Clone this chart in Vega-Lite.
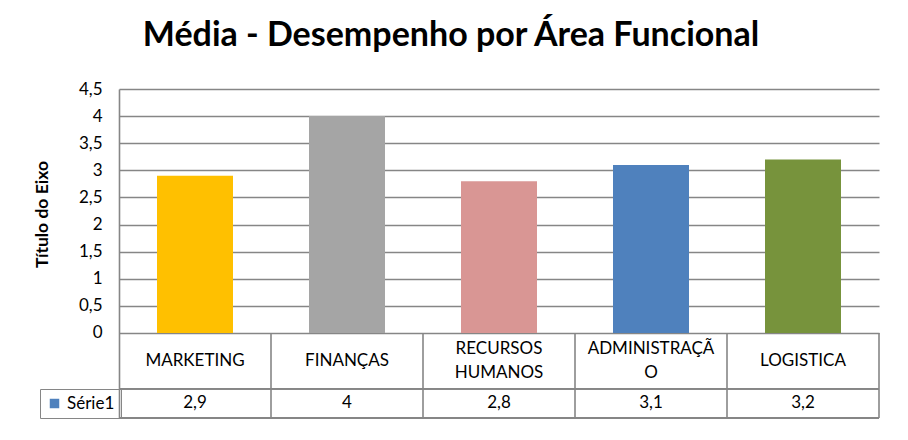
{
  "$schema": "https://vega.github.io/schema/vega-lite/v6.json",
  "width": 760,
  "height": 329,
  "autosize": {"type": "none"},
  "padding": {"left": 119, "top": 89, "right": 29, "bottom": 22},
  "background": "white",
  "title": {
    "text": "Média - Desempenho por Área Funcional",
    "font": "Lato",
    "fontSize": 34,
    "fontWeight": "bold",
    "color": "black",
    "anchor": "middle",
    "dx": -48,
    "offset": 27
  },
  "config": {
    "locale": {"number": {"decimal": ",", "thousands": ".", "grouping": [3], "currency": ["R$", ""]}},
    "view": {"stroke": null},
    "text": {"font": "Lato", "fontSize": 17, "color": "black"},
    "axisY": {
      "values": [0, 0.5, 1, 1.5, 2, 2.5, 3, 3.5, 4, 4.5],
      "format": "~g",
      "labelOverlap": false,
      "titleFont": "Lato",
      "titleFontSize": 17.5,
      "titleFontWeight": "bold",
      "titleColor": "black",
      "titleY": 125,
      "titlePadding": 27,
      "labelFont": "Lato",
      "labelFontSize": 17,
      "labelColor": "black",
      "labelPadding": 17,
      "ticks": false,
      "grid": true,
      "gridColor": "#868686",
      "gridWidth": 1.6,
      "gridOpacity": 1,
      "domainColor": "#868686",
      "domainWidth": 1.6
    }
  },
  "data": {
    "values": [
      {"area": "MARKETING", "rotulo": "MARKETING", "valor": 2.9},
      {"area": "FINANÇAS", "rotulo": "FINANÇAS", "valor": 4},
      {"area": "RECURSOS HUMANOS", "rotulo": "RECURSOS\nHUMANOS", "valor": 2.8},
      {"area": "ADMINISTRAÇÃO", "rotulo": "ADMINISTRAÇÃ\nO", "valor": 3.1},
      {"area": "LOGISTICA", "rotulo": "LOGISTICA", "valor": 3.2}
    ]
  },
  "layer": [
    {
      "mark": {"type": "bar", "width": {"band": 0.5}},
      "encoding": {
        "x": {"field": "area", "type": "nominal", "sort": null, "scale": {"paddingInner": 0, "paddingOuter": 0}, "axis": null},
        "y": {
          "field": "valor",
          "type": "quantitative",
          "scale": {"domain": [-1.57, 4.5], "nice": false, "zero": false},
          "axis": {"title": "Título do Eixo", "values": [0, 0.5, 1, 1.5, 2, 2.5, 3, 3.5, 4, 4.5]}
        },
        "y2": {"datum": 0},
        "color": {
          "field": "area",
          "type": "nominal",
          "scale": {
            "domain": ["MARKETING", "FINANÇAS", "RECURSOS HUMANOS", "ADMINISTRAÇÃO", "LOGISTICA"],
            "range": ["#FFC000", "#A5A5A5", "#D99694", "#4F81BD", "#77933C"]
          },
          "legend": null
        }
      }
    },
    {
      "mark": {"type": "rule", "color": "#868686", "strokeWidth": 1.6},
      "encoding": {
        "x": {"field": "area", "type": "nominal", "sort": null, "bandPosition": 1, "axis": null},
        "y": {"datum": 0, "axis": {"title": "Título do Eixo", "values": [0, 0.5, 1, 1.5, 2, 2.5, 3, 3.5, 4, 4.5]}},
        "y2": {"datum": -1.57}
      }
    },
    {
      "mark": {"type": "rule", "color": "#868686", "strokeWidth": 1.6},
      "encoding": {"y": {"datum": -1.03, "axis": {"title": "Título do Eixo", "values": [0, 0.5, 1, 1.5, 2, 2.5, 3, 3.5, 4, 4.5]}}}
    },
    {
      "mark": {"type": "rule", "color": "#868686", "strokeWidth": 1.6},
      "encoding": {"y": {"datum": -1.57, "axis": {"title": "Título do Eixo", "values": [0, 0.5, 1, 1.5, 2, 2.5, 3, 3.5, 4, 4.5]}}}
    },
    {
      "transform": [{"filter": "indexof(datum.rotulo, '\\n') < 0"}],
      "mark": {"type": "text", "baseline": "middle"},
      "encoding": {
        "x": {"field": "area", "type": "nominal", "sort": null, "axis": null},
        "y": {"datum": -0.52, "axis": {"title": "Título do Eixo", "values": [0, 0.5, 1, 1.5, 2, 2.5, 3, 3.5, 4, 4.5]}},
        "text": {"field": "rotulo"}
      }
    },
    {
      "transform": [{"filter": "indexof(datum.rotulo, '\\n') >= 0"}],
      "mark": {"type": "text", "lineBreak": "\n", "baseline": "middle", "lineHeight": 24, "dy": -12},
      "encoding": {
        "x": {"field": "area", "type": "nominal", "sort": null, "axis": null},
        "y": {"datum": -0.52, "axis": {"title": "Título do Eixo", "values": [0, 0.5, 1, 1.5, 2, 2.5, 3, 3.5, 4, 4.5]}},
        "text": {"field": "rotulo"}
      }
    },
    {
      "mark": {"type": "text", "baseline": "middle"},
      "encoding": {
        "x": {"field": "area", "type": "nominal", "sort": null, "axis": null},
        "y": {"datum": -1.3, "axis": {"title": "Título do Eixo", "values": [0, 0.5, 1, 1.5, 2, 2.5, 3, 3.5, 4, 4.5]}},
        "text": {"field": "valor", "type": "quantitative", "format": "~g"}
      }
    },
    {
      "mark": {"type": "square", "opacity": 0},
      "encoding": {
        "fill": {
          "datum": "Série1",
          "scale": {"range": ["#4F81BD"]},
          "legend": {
            "title": null,
            "orient": "none",
            "legendX": -79,
            "legendY": 300,
            "strokeColor": "#868686",
            "padding": 6,
            "symbolType": "square",
            "symbolSize": 90,
            "symbolOpacity": 1,
            "symbolStrokeWidth": 0,
            "labelFont": "Lato",
            "labelFontSize": 17,
            "labelColor": "black"
          }
        }
      }
    }
  ]
}
